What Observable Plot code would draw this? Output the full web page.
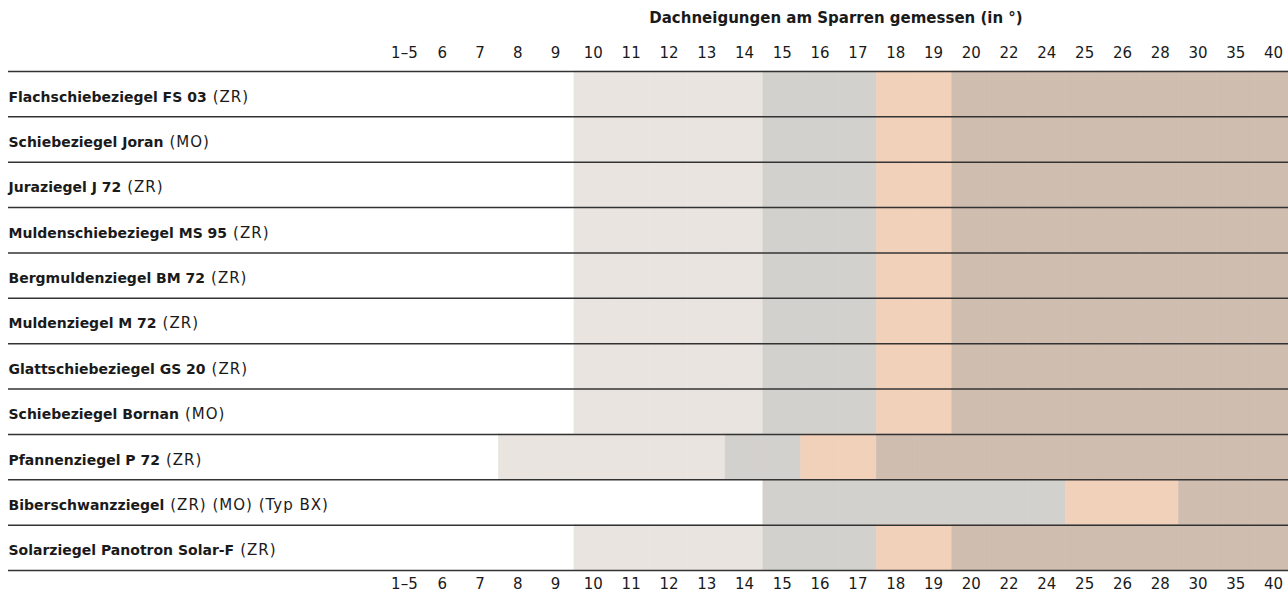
<!DOCTYPE html>
<html>
<head>
<meta charset="utf-8">
<script src="https://cdn.jsdelivr.net/npm/d3@7"></script>
<script src="https://cdn.jsdelivr.net/npm/@observablehq/plot@0.6"></script>
<style>
  html, body { margin: 0; padding: 0; background: #fff; }
  #title { height: 36px; padding-left: 384px; text-align: center;
           font: bold 15px "DejaVu Sans", sans-serif; line-height: 36px; color: #1a1a1a; }
  #chart svg { display: block; }
</style>
</head>
<body>
<div id="title">Dachneigungen am Sparren gemessen (in °)</div>
<div id="chart"></div>
<script>
const columns = ["1–5","6","7","8","9","10","11","12","13","14","15","16","17","18","19","20","22","24","25","26","28","30","35","40"];
const products = ["Flachschiebeziegel FS 03","Schiebeziegel Joran","Juraziegel J 72","Muldenschiebeziegel MS 95","Bergmuldenziegel BM 72","Muldenziegel M 72","Glattschiebeziegel GS 20","Schiebeziegel Bornan","Pfannenziegel P 72","Biberschwanzziegel","Solarziegel Panotron Solar-F"];
const suffixes = ["(ZR)","(MO)","(ZR)","(ZR)","(ZR)","(ZR)","(ZR)","(MO)","(ZR)","(ZR) (MO) (Typ BX)","(ZR)"];
const lightFrom = ["10","10","10","10","10","10","10","10","8","15","10"];
const greyFrom  = ["15","15","15","15","15","15","15","15","14","15","15"];
const peachFrom = ["18","18","18","18","18","18","18","18","16","25","18"];
const tanFrom   = ["20","20","20","20","20","20","20","20","18","30","20"];
const zones = ["light","grey","peach","tan"];
const zoneColors = ["#e9e4e0","#d2d1cd","#f2d1bb","#cfbdb0"];

const cells = [];
products.forEach((p, i) => {
  const l = columns.indexOf(lightFrom[i]), g = columns.indexOf(greyFrom[i]),
        pe = columns.indexOf(peachFrom[i]), t = columns.indexOf(tanFrom[i]);
  columns.forEach((c, j) => {
    const zone = j >= t ? "tan" : j >= pe ? "peach" : j >= g ? "grey" : j >= l ? "light" : null;
    if (zone) cells.push({col: c, row: i, zone});
  });
});
const rowEdges = d3.range(products.length + 1);
const labels = products.map((p, i) => ({name: p, suffix: suffixes[i], row: i}));

const chart = Plot.plot({
  width: 1288, height: 560,
  marginTop: 35, marginBottom: 26, marginLeft: 8, marginRight: 0,
  style: {fontFamily: "'DejaVu Sans', sans-serif", fontSize: "15px", color: "#1a1a1a", background: "#fff"},
  x: {domain: columns, range: [385, 1292], padding: 0, round: false, label: null, axis: null},
  y: {domain: [0, products.length], reverse: true, axis: null},
  color: {domain: zones, range: zoneColors},
  marks: [
    Plot.barY(cells, {x: "col", y1: "row", y2: d => d.row + 1, fill: "zone", stroke: "zone", strokeWidth: 0.6, inset: 0}),
    Plot.ruleY(rowEdges, {stroke: "#333", strokeWidth: 1.5}),
    Plot.text(labels, {y: d => d.row + 0.5, text: "name", frameAnchor: "left", textAnchor: "start",
                       fontWeight: "bold", fontSize: 14, dy: 3, fill: "#1a1a1a", ariaDescription: "row-labels"}),
    Plot.axisX({anchor: "top", tickSize: 0, tickPadding: 14, label: null, fontSize: 15}),
    Plot.axisX({anchor: "bottom", tickSize: 0, tickPadding: 8, label: null, fontSize: 15})
  ]
});

d3.select(chart).selectAll("g[aria-description='row-labels'] text").each(function(_, k) {
  d3.select(this).append("tspan").attr("dx", 6).attr("font-weight", "normal")
    .attr("font-size", 15).attr("letter-spacing", "1px").text(labels[k].suffix);
});
document.getElementById("chart").appendChild(chart);
</script>
</body>
</html>
